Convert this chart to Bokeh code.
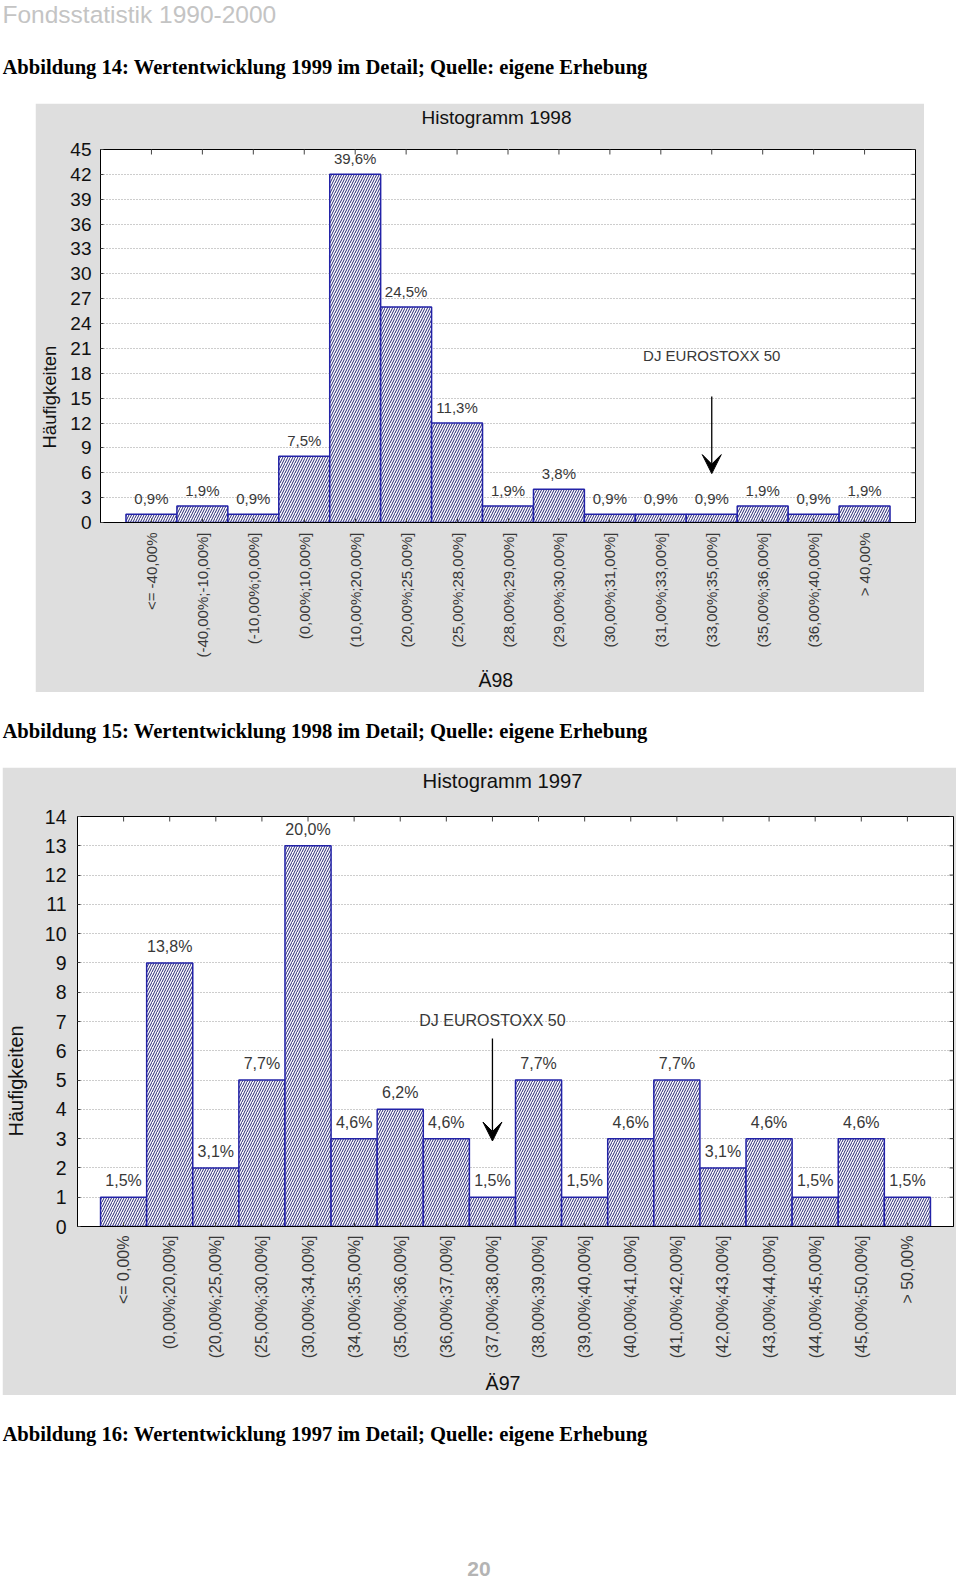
import math
from bokeh.plotting import figure
from bokeh.layouts import column, row
from bokeh.models import (Range1d, FixedTicker, LinearAxis, Title, Arrow, VeeHead, Spacer,
                          ColumnDataSource)
from bokeh.core.properties import value
from bokeh.embed import file_html
from bokeh.resources import INLINE

# ------------------------------------------------------------------ data
page_header = "Fondsstatistik 1990-2000"
caption_14 = "Abbildung 14: Wertentwicklung 1999 im Detail; Quelle: eigene Erhebung"
caption_15 = "Abbildung 15: Wertentwicklung 1998 im Detail; Quelle: eigene Erhebung"
caption_16 = "Abbildung 16: Wertentwicklung 1997 im Detail; Quelle: eigene Erhebung"
page_number = "20"
y_axis_label = "Häufigkeiten"
marker_text = "DJ EUROSTOXX 50"

title_1998 = "Histogramm 1998"
xlabel_1998 = "Ä98"
categories_1998 = ["<= -40,00%", "(-40,00%;-10,00%]", "(-10,00%;0,00%]", "(0,00%;10,00%]",
                   "(10,00%;20,00%]", "(20,00%;25,00%]", "(25,00%;28,00%]", "(28,00%;29,00%]",
                   "(29,00%;30,00%]", "(30,00%;31,00%]", "(31,00%;33,00%]", "(33,00%;35,00%]",
                   "(35,00%;36,00%]", "(36,00%;40,00%]", "> 40,00%"]
counts_1998 = [1, 2, 1, 8, 42, 26, 12, 2, 4, 1, 1, 1, 2, 1, 2]
percent_labels_1998 = ["0,9%", "1,9%", "0,9%", "7,5%", "39,6%", "24,5%", "11,3%", "1,9%",
                       "3,8%", "0,9%", "0,9%", "0,9%", "1,9%", "0,9%", "1,9%"]
y_ticks_1998 = [0, 3, 6, 9, 12, 15, 18, 21, 24, 27, 30, 33, 36, 39, 42, 45]
y_max_1998 = 45
marker_bin_1998 = "(33,00%;35,00%]"
marker_label_y_1998 = 20.2
marker_arrow_top_1998 = 15.2
marker_arrow_tip_1998 = 5.9

title_1997 = "Histogramm 1997"
xlabel_1997 = "Ä97"
categories_1997 = ["<= 0,00%", "(0,00%;20,00%]", "(20,00%;25,00%]", "(25,00%;30,00%]",
                   "(30,00%;34,00%]", "(34,00%;35,00%]", "(35,00%;36,00%]", "(36,00%;37,00%]",
                   "(37,00%;38,00%]", "(38,00%;39,00%]", "(39,00%;40,00%]", "(40,00%;41,00%]",
                   "(41,00%;42,00%]", "(42,00%;43,00%]", "(43,00%;44,00%]", "(44,00%;45,00%]",
                   "(45,00%;50,00%]", "> 50,00%"]
counts_1997 = [1, 9, 2, 5, 13, 3, 4, 3, 1, 5, 1, 3, 5, 2, 3, 1, 3, 1]
percent_labels_1997 = ["1,5%", "13,8%", "3,1%", "7,7%", "20,0%", "4,6%", "6,2%", "4,6%",
                       "1,5%", "7,7%", "1,5%", "4,6%", "7,7%", "3,1%", "4,6%", "1,5%",
                       "4,6%", "1,5%"]
y_ticks_1997 = [0, 1, 2, 3, 4, 5, 6, 7, 8, 9, 10, 11, 12, 13, 14]
y_max_1997 = 14
marker_bin_1997 = "(37,00%;38,00%]"
marker_label_y_1997 = 7.05
marker_arrow_top_1997 = 6.42
marker_arrow_tip_1997 = 2.92

# ------------------------------------------------------------------ styles
SANS = "Liberation Sans"
SERIF = "Liberation Serif"
PANEL = "#dedede"
BAR_LINE = "#2323a8"
HATCH = "#262673"
GRID = "#9a9a9a"
LABEL_GRAY = "#383838"
TICK = "#444444"


def text_figure(w, h, items):
    f = figure(width=w, height=h, x_range=Range1d(0, w), y_range=Range1d(h, 0),
               x_axis_type=None, y_axis_type=None, output_backend="svg",
               toolbar_location=None, min_border=0, outline_line_color=None,
               background_fill_color="white", border_fill_color="white")
    for (x, y, txt, font, size, style, color, align, base) in items:
        f.text(x=[x], y=[y], text=[txt], text_font=value(font), text_font_size=size,
               text_font_style=style, text_color=color, text_align=align,
               text_baseline=base)
    return f


def spacer_axis(size, tick):
    # an axis with one invisible (panel-coloured) tick and no visible label:
    # it only reserves `size` pixels between the frame and a title
    return LinearAxis(ticker=FixedTicker(ticks=[tick]), major_tick_out=size, major_tick_in=0,
                      major_tick_line_color=PANEL, minor_tick_line_color=None,
                      minor_tick_out=0, minor_tick_in=0, major_label_text_color=None,
                      major_label_text_font_size="1px", major_label_standoff=0,
                      axis_line_color=None)


def histogram(title, xlabel, categories, counts, labels, y_ticks, y_max,
              marker_bin, marker_y, arrow_top, arrow_tip,
              width, height, borders, fs):
    n = len(categories)
    xs = list(range(1, n + 1))
    left, right, top, bottom = borders
    p = figure(width=width, height=height, x_range=Range1d(0, n + 1),
               y_range=Range1d(0, y_max), output_backend="svg", toolbar_location=None,
               min_border_left=left, min_border_right=right, min_border_top=top,
               min_border_bottom=bottom, title=None,
               background_fill_color="white", border_fill_color=PANEL,
               outline_line_color="black", outline_line_width=1)

    # x axis with category labels
    xa = p.xaxis[0]
    xa.ticker = FixedTicker(ticks=xs)
    xa.major_label_overrides = {x: c for x, c in zip(xs, categories)}
    xa.major_label_orientation = math.pi / 2
    xa.major_label_text_font = SANS
    xa.major_label_text_font_size = fs["cat"]
    xa.major_label_text_color = LABEL_GRAY
    xa.major_label_standoff = fs["cat_standoff"]
    xa.major_tick_in = 4
    xa.major_tick_out = 0
    xa.major_tick_line_color = TICK
    xa.axis_line_color = "black"
    xa.minor_tick_line_color = None

    ya = p.yaxis[0]
    ya.ticker = FixedTicker(ticks=y_ticks)
    ya.major_label_text_font = SANS
    ya.major_label_text_font_size = fs["ytick"]
    ya.major_label_text_color = "#111111"
    ya.major_label_standoff = fs["ytick_standoff"]
    ya.major_tick_in = 3
    ya.major_tick_out = 0
    ya.major_tick_line_color = TICK
    ya.axis_line_color = "black"
    ya.minor_tick_line_color = None

    mid_x = xs[n // 2]
    mid_y = y_ticks[len(y_ticks) // 2]
    p.add_layout(spacer_axis(fs["title_gap"], mid_x), "above")
    p.add_layout(Title(text=title, align="left", offset=fs["title_offset"],
                       text_font=SANS, text_font_size=fs["title"], text_font_style="normal",
                       text_color="#111111", standoff=0), "above")
    p.add_layout(spacer_axis(fs["ylab_gap"], mid_y), "left")
    p.add_layout(Title(text=y_axis_label, align="left", offset=fs["ylab_offset"],
                       text_font=SANS, text_font_size=fs["ylab"], text_font_style="normal",
                       text_color="#111111", standoff=0), "left")
    p.add_layout(spacer_axis(fs["xlab_gap"], mid_x), "below")
    p.add_layout(Title(text=xlabel, align="left", offset=fs["xlab_offset"],
                       text_font=SANS, text_font_size=fs["xlab"], text_font_style="normal",
                       text_color="#111111", standoff=0), "below")

    p.xgrid.visible = False
    p.ygrid.grid_line_color = GRID
    p.ygrid.grid_line_dash = "1 2"
    p.ygrid.grid_line_width = 1

    # inward tick marks on the top and right frame edges (clipped half-dashes)
    p.scatter(x=xs, y=[y_max] * n, marker="dash", angle=math.pi / 2, size=10,
              line_color=TICK, line_width=1)
    p.scatter(x=[n + 1] * len(y_ticks), y=y_ticks, marker="dash", size=8,
              line_color=TICK, line_width=1)

    src = ColumnDataSource(dict(x=xs, top=counts, label=labels))
    p.vbar(x="x", top="top", width=1, source=src, fill_color="white",
           line_color=BAR_LINE, line_width=1.5, hatch_pattern="/", hatch_color=HATCH,
           hatch_scale=5, hatch_weight=1)
    p.text(x="x", y="top", text="label", source=src, text_align="center",
           text_baseline="bottom", y_offset=fs["pct_offset"], text_font=value(SANS),
           text_font_size=fs["pct"], text_color=LABEL_GRAY)

    mx = categories.index(marker_bin) + 1
    p.text(x=[mx], y=[marker_y], text=[marker_text], text_align="center",
           text_baseline="middle", text_font=value(SANS), text_font_size=fs["pct"],
           text_color=LABEL_GRAY)
    p.add_layout(Arrow(end=VeeHead(size=19, fill_color="black", line_color="black"),
                       x_start=mx, y_start=arrow_top, x_end=mx, y_end=arrow_tip,
                       line_color="black", line_width=1.3))
    return p


fs_1998 = dict(title="19px", title_offset=321, title_gap=22, cat="15px", cat_standoff=10,
               ytick="19px", ytick_standoff=9, ylab="18.5px", ylab_offset=74, ylab_gap=8,
               xlab="19.5px", xlab_offset=378, xlab_gap=6, pct="15px", pct_offset=-7)
fs_1997 = dict(title="20.3px", title_offset=345, title_gap=25, cat="16px", cat_standoff=9,
               ytick="19.5px", ytick_standoff=11, ylab="20px", ylab_offset=90, ylab_gap=15,
               xlab="19.7px", xlab_offset=408, xlab_gap=8, pct="16px", pct_offset=-8)

chart_1998 = histogram(title_1998, xlabel_1998, categories_1998, counts_1998,
                       percent_labels_1998, y_ticks_1998, y_max_1998, marker_bin_1998,
                       marker_label_y_1998, marker_arrow_top_1998, marker_arrow_tip_1998,
                       889, 589, (65, 9, 46, 170), fs_1998)
chart_1997 = histogram(title_1997, xlabel_1997, categories_1997, counts_1997,
                       percent_labels_1997, y_ticks_1997, y_max_1997, marker_bin_1997,
                       marker_label_y_1997, marker_arrow_top_1997, marker_arrow_tip_1997,
                       954, 628, (75, 3, 48, 169), fs_1997)

header = text_figure(958, 103, [
    (0, 13.5, page_header, SANS, "24.5px", "normal", "#c4c4c4", "left", "middle"),
    (0, 66.5, caption_14, SERIF, "20.6px", "bold", "black", "left", "middle"),
])
middle = text_figure(958, 75, [
    (0, 38.3, caption_15, SERIF, "20.6px", "bold", "black", "left", "middle"),
])
footer = text_figure(958, 184, [
    (0, 38.4, caption_16, SERIF, "20.6px", "bold", "black", "left", "middle"),
    (476.5, 173, page_number, SANS, "21px", "bold", "#b4b4b4", "center", "middle"),
])

layout = column(
    row(Spacer(width=2, height=103), header),
    row(Spacer(width=35, height=589), chart_1998),
    row(Spacer(width=2, height=75), middle),
    row(Spacer(width=2, height=628), chart_1997),
    row(Spacer(width=2, height=184), footer),
)

open("out.html", "w").write(file_html(layout, INLINE))
